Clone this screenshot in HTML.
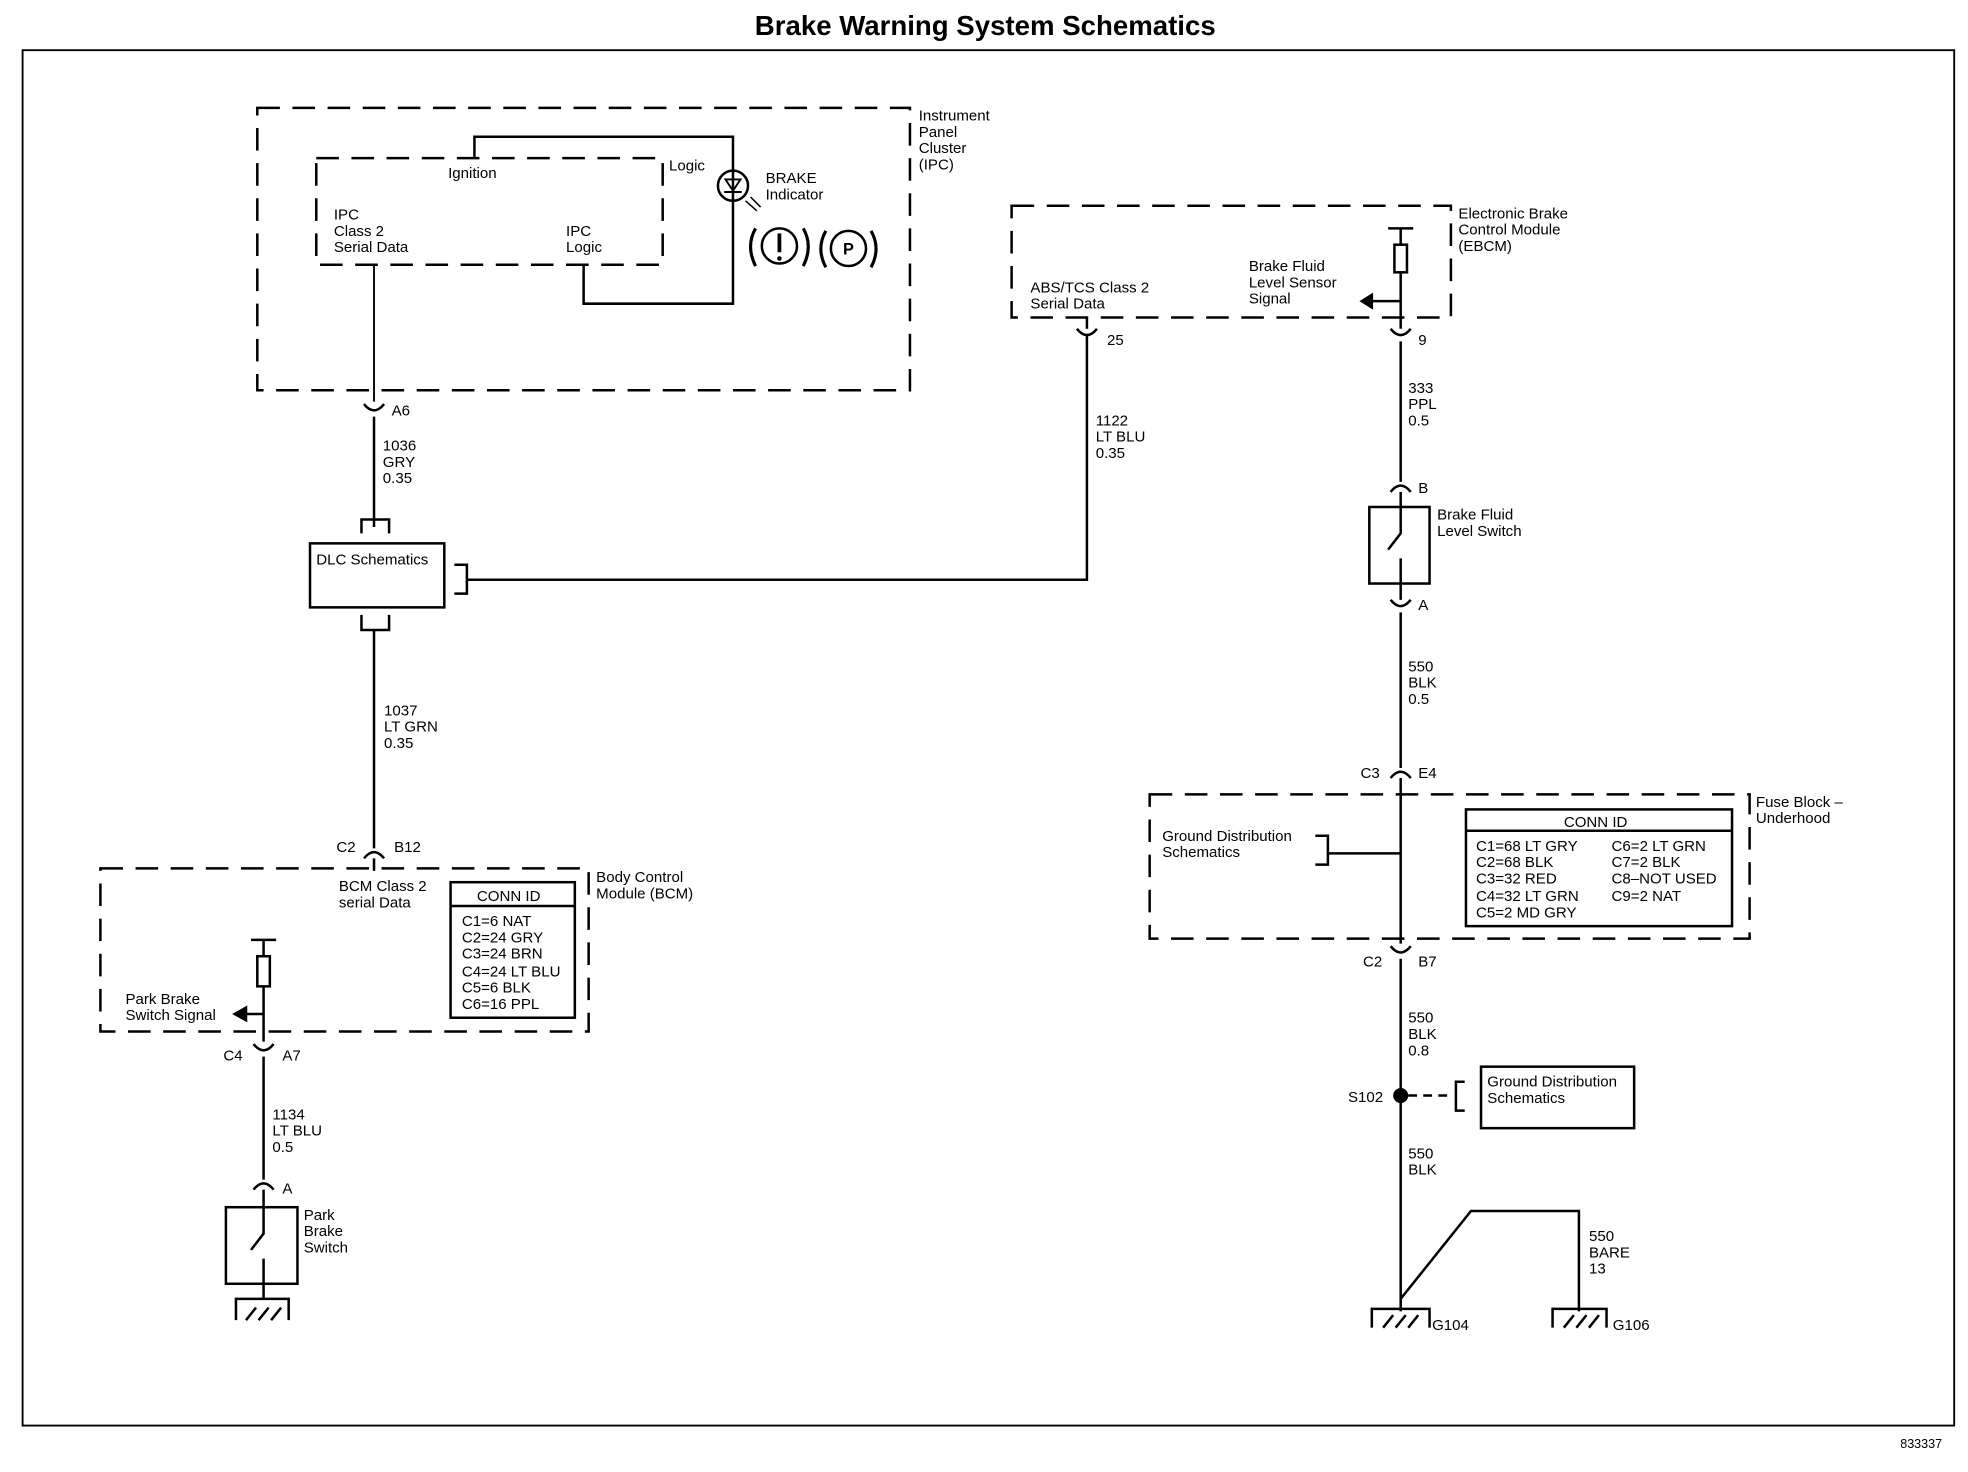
<!DOCTYPE html>
<html><head><meta charset="utf-8"><style>
html,body{margin:0;padding:0;background:#fff}
svg{display:block}
text{font-family:"Liberation Sans",Arial,sans-serif;font-size:12px;fill:#000}
</style></head><body>
<svg width="1968" height="1472" viewBox="0 0 1568 1173" preserveAspectRatio="none" xmlns="http://www.w3.org/2000/svg">
<g fill="none" stroke="#000" stroke-width="2">
<rect x="18" y="40" width="1539" height="1096" stroke-width="1.5"/>
<rect x="205" y="86" width="520" height="225" stroke-dasharray="18,10"/>
<rect x="252" y="126" width="276" height="85" stroke-dasharray="18,10"/>
<path d="M378 126 V109 H584 V242 H465 V211"/>
<circle cx="584" cy="148" r="12"/>
<path d="M578 143 L584 152 L590 143 Z M577 153 H591" stroke-width="1.5"/>
<path d="M594 160 L603 168 M598 157 L606 165" stroke-width="1.2"/>
<circle cx="621" cy="196" r="14"/>
<circle cx="676" cy="198" r="14"/>
<path d="M602 182 Q594 196 602 212 M640 182 Q648 196 640 212 M658 184 Q650 198 658 213 M694 184 Q702 198 694 213" stroke-width="2.5"/>
<path d="M621 186 V201" stroke-width="3"/>
<circle cx="621" cy="206" r="1.8" fill="#000" stroke="none"/>
<path d="M298 211 V320" stroke-width="1.5"/>
<path d="M290 322 Q298 332 306 322"/>
<path d="M298 332 V420"/>
<path d="M288 425 V414 H310 V425"/>
<rect x="247" y="433" width="107" height="51"/>
<path d="M288 490 V502 H310 V490 M362 450 H372 V473 H362 M372 462 H866 V266"/>
<path d="M298 502 V676"/>
<path d="M290 684 Q298 674 306 684"/>
<path d="M298 684 V694"/>
<rect x="806" y="164" width="350" height="89" stroke-dasharray="18,10"/>
<path d="M858 262 Q866 272 874 262" />
<path d="M866 253 V262"/>
<path d="M1106 182 H1126 M1116 182 V195"/>
<rect x="1111" y="195" width="10" height="22"/>
<path d="M1116 217 V262 M1116 240 H1092"/>
<path d="M1085 240 L1093 235 L1093 245 Z" fill="#000"/>
<path d="M1108 262 Q1116 272 1124 262"/>
<path d="M1116 272 V384"/>
<path d="M1108 392 Q1116 382 1124 392"/>
<path d="M1116 392 V404"/>
<rect x="1091" y="404" width="48" height="61"/>
<path d="M1116 404 V425 L1106 438 M1116 445 V465"/>
<path d="M1108 478 Q1116 488 1124 478"/>
<path d="M1116 465 V478 M1116 488 V612"/>
<path d="M1108 620 Q1116 610 1124 620"/>
<path d="M1116 620 V752"/>
<rect x="916" y="633" width="478" height="115" stroke-dasharray="18,10"/>
<path d="M1048 666 H1058 V689 H1048 M1058 680 H1116"/>
<rect x="1168" y="645" width="212" height="93"/>
<path d="M1168 662 H1380"/>
<path d="M1108 754 Q1116 764 1124 754"/>
<path d="M1116 764 V1045"/>
<circle cx="1116" cy="873" r="5" fill="#000"/>
<path d="M1122 873 H1156" stroke-dasharray="7,5"/>
<path d="M1167 862 H1160 V885 H1167"/>
<rect x="1180" y="850" width="122" height="49"/>
<path d="M1116 1035 L1172 965 H1258 V1045"/>
<path d="M1093 1058 V1043 H1139 V1058 M1102 1058 L1110 1048 M1112 1058 L1120 1048 M1122 1058 L1130 1048"/>
<path d="M1237 1058 V1043 H1280 V1058 M1246 1058 L1254 1048 M1256 1058 L1264 1048 M1266 1058 L1274 1048"/>
<rect x="80" y="692" width="389" height="130" stroke-dasharray="18,10"/>
<rect x="359" y="703" width="99" height="108"/>
<path d="M359 722 H458"/>
<path d="M200 749 H220 M210 749 V762"/>
<rect x="205" y="762" width="10" height="24"/>
<path d="M210 786 V830 M210 808 H195"/>
<path d="M187 808 L196 803 L196 813 Z" fill="#000"/>
<path d="M202 832 Q210 842 218 832"/>
<path d="M210 842 V940"/>
<path d="M202 948 Q210 938 218 948"/>
<path d="M210 948 V962"/>
<rect x="180" y="962" width="57" height="61"/>
<path d="M210 962 V983 L200 996 M210 1003 V1035"/>
<path d="M188 1052 V1035 H230 V1052 M196 1052 L204 1042 M206 1052 L214 1042 M216 1052 L224 1042"/>
</g>
<text x="676" y="203" text-anchor="middle" style="font-size:13px;font-weight:bold">P</text>
<text x="785" y="28" text-anchor="middle" style="font-size:22px;font-weight:bold">Brake Warning System Schematics</text>
<text x="732" y="96">Instrument</text><text x="732" y="109">Panel</text><text x="732" y="122">Cluster</text><text x="732" y="135">(IPC)</text>
<text x="357" y="142">Ignition</text>
<text x="533" y="136">Logic</text>
<text x="610" y="146">BRAKE</text><text x="610" y="159">Indicator</text>
<text x="266" y="175">IPC</text><text x="266" y="188">Class 2</text><text x="266" y="201">Serial Data</text>
<text x="451" y="188">IPC</text><text x="451" y="201">Logic</text>
<text x="312" y="331">A6</text>
<text x="305" y="359">1036</text><text x="305" y="372">GRY</text><text x="305" y="385">0.35</text>
<text x="252" y="450">DLC Schematics</text>
<text x="306" y="570">1037</text><text x="306" y="583">LT GRN</text><text x="306" y="596">0.35</text>
<text x="268" y="679">C2</text><text x="314" y="679">B12</text>
<text x="475" y="703">Body Control</text><text x="475" y="716">Module (BCM)</text>
<text x="270" y="710">BCM Class 2</text><text x="270" y="723">serial Data</text>
<text x="380" y="718">CONN ID</text>
<text x="368" y="738">C1=6 NAT</text><text x="368" y="751">C2=24 GRY</text><text x="368" y="764">C3=24 BRN</text><text x="368" y="778">C4=24 LT BLU</text><text x="368" y="791">C5=6 BLK</text><text x="368" y="804">C6=16 PPL</text>
<text x="100" y="800">Park Brake</text><text x="100" y="813">Switch Signal</text>
<text x="178" y="845">C4</text><text x="225" y="845">A7</text>
<text x="217" y="892">1134</text><text x="217" y="905">LT BLU</text><text x="217" y="918">0.5</text>
<text x="225" y="951">A</text>
<text x="242" y="972">Park</text><text x="242" y="985">Brake</text><text x="242" y="998">Switch</text>
<text x="1162" y="174">Electronic Brake</text><text x="1162" y="187">Control Module</text><text x="1162" y="200">(EBCM)</text>
<text x="995" y="216">Brake Fluid</text><text x="995" y="229">Level Sensor</text><text x="995" y="242">Signal</text>
<text x="821" y="233">ABS/TCS Class 2</text><text x="821" y="246">Serial Data</text>
<text x="882" y="275">25</text><text x="1130" y="275">9</text>
<text x="873" y="339">1122</text><text x="873" y="352">LT BLU</text><text x="873" y="365">0.35</text>
<text x="1122" y="313">333</text><text x="1122" y="326">PPL</text><text x="1122" y="339">0.5</text>
<text x="1130" y="393">B</text>
<text x="1145" y="414">Brake Fluid</text><text x="1145" y="427">Level Switch</text>
<text x="1130" y="486">A</text>
<text x="1122" y="535">550</text><text x="1122" y="548">BLK</text><text x="1122" y="561">0.5</text>
<text x="1084" y="620">C3</text><text x="1130" y="620">E4</text>
<text x="1399" y="643">Fuse Block –</text><text x="1399" y="656">Underhood</text>
<text x="926" y="670">Ground Distribution</text><text x="926" y="683">Schematics</text>
<text x="1246" y="659">CONN ID</text>
<text x="1176" y="678">C1=68 LT GRY</text><text x="1176" y="691">C2=68 BLK</text><text x="1176" y="704">C3=32 RED</text><text x="1176" y="718">C4=32 LT GRN</text><text x="1176" y="731">C5=2 MD GRY</text>
<text x="1284" y="678">C6=2 LT GRN</text><text x="1284" y="691">C7=2 BLK</text><text x="1284" y="704">C8–NOT USED</text><text x="1284" y="718">C9=2 NAT</text>
<text x="1086" y="770">C2</text><text x="1130" y="770">B7</text>
<text x="1122" y="815">550</text><text x="1122" y="828">BLK</text><text x="1122" y="841">0.8</text>
<text x="1074" y="878">S102</text>
<text x="1185" y="866">Ground Distribution</text><text x="1185" y="879">Schematics</text>
<text x="1122" y="923">550</text><text x="1122" y="936">BLK</text>
<text x="1266" y="989">550</text><text x="1266" y="1002">BARE</text><text x="1266" y="1015">13</text>
<text x="1141" y="1060">G104</text><text x="1285" y="1060">G106</text>
<text x="1514" y="1154" style="font-size:10px">833337</text>
</svg>
</body></html>
